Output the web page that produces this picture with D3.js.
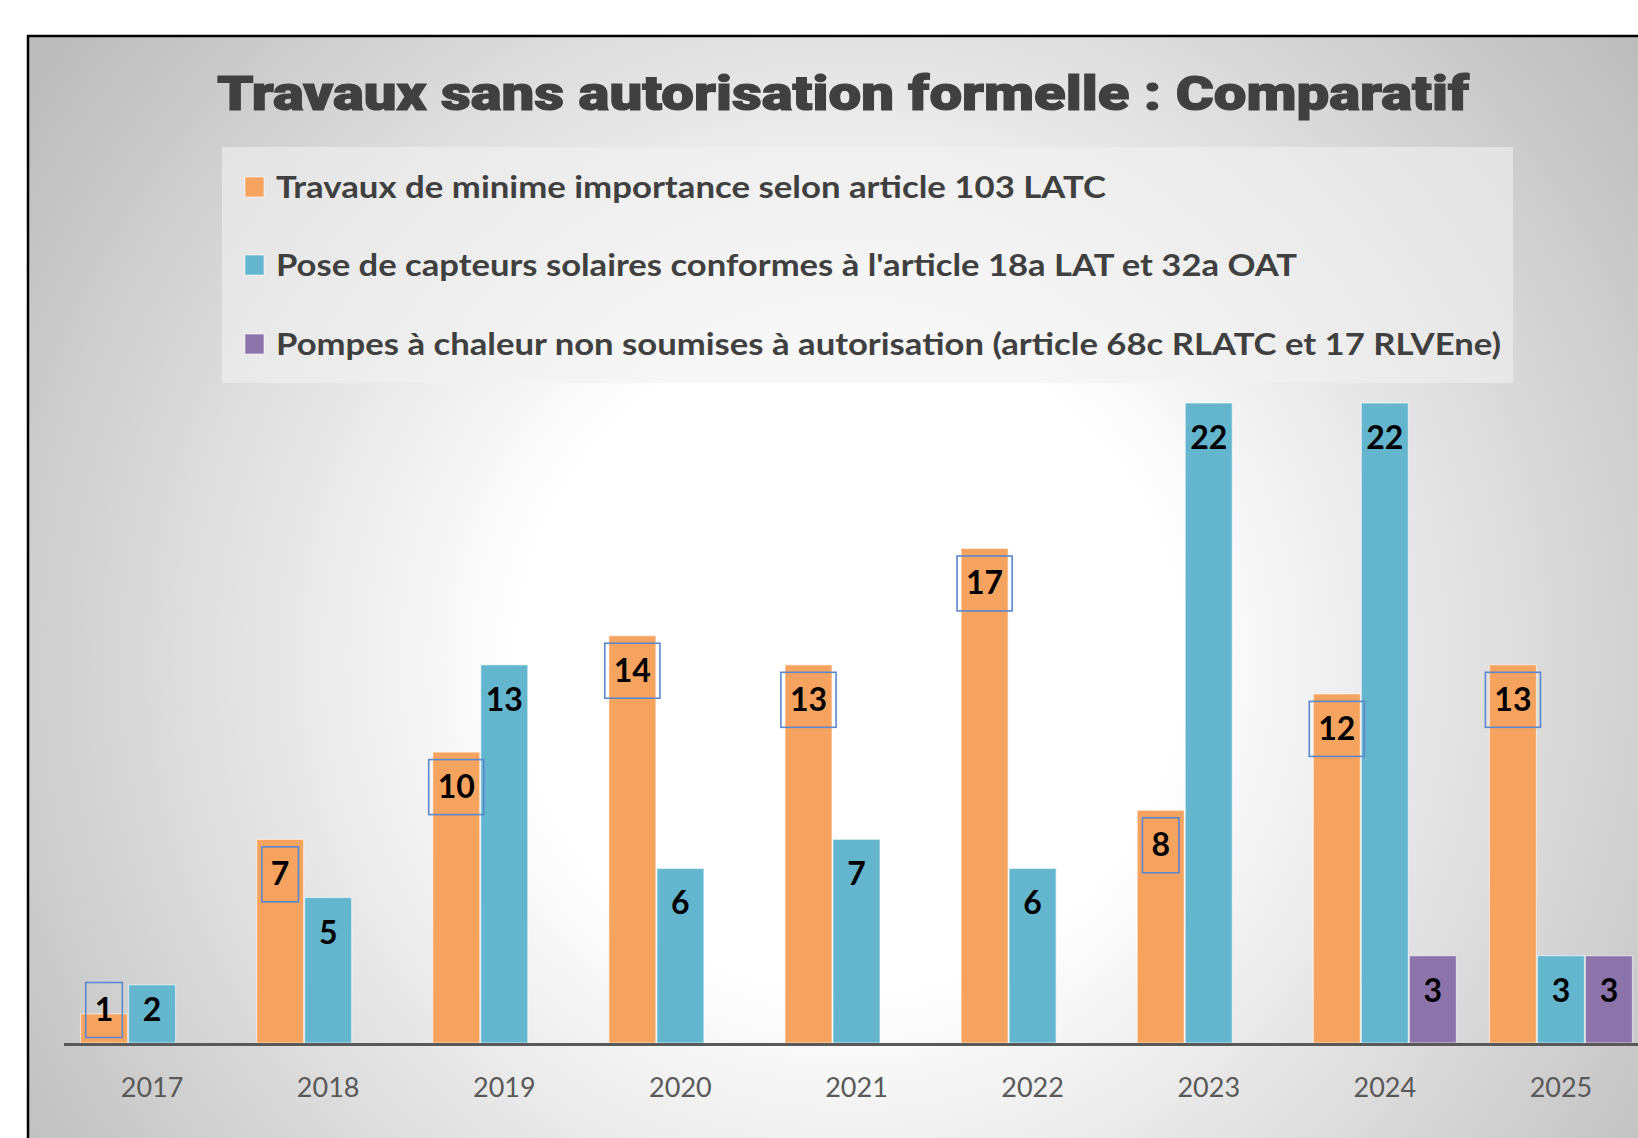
<!DOCTYPE html>
<html>
<head>
<meta charset="utf-8">
<script src="https://cdn.jsdelivr.net/npm/d3@7"></script>
<style>
  html, body { margin: 0; padding: 0; background: #ffffff; overflow: hidden; }
  svg { display: block; }
</style>
</head>
<body>
<svg id="chart" width="1638" height="1138"></svg>
<script>
// Years and series counts
const years = ["2017", "2018", "2019", "2020", "2021", "2022", "2023", "2024", "2025"];
const minimeValues  = [1, 7, 10, 14, 13, 17, 8, 12, 13];
const solaireValues = [2, 5, 13, 6, 7, 6, 22, 22, 3];
const pompeValues   = [0, 0, 0, 0, 0, 0, 0, 3, 3];

const seriesNames = [
  "Travaux de minime importance selon article 103 LATC",
  "Pose de capteurs solaires conformes à l'article 18a LAT et 32a OAT",
  "Pompes à chaleur non soumises à autorisation (article 68c RLATC et 17 RLVEne)"
];
const seriesColors = ["#f5a35f", "#63b6cd", "#8c74aa"];
const titleText = "Travaux sans autorisation formelle : Comparatif";

const series = [
  { key: "minime",  name: seriesNames[0], color: seriesColors[0], values: minimeValues,  boxed: true },
  { key: "solaire", name: seriesNames[1], color: seriesColors[1], values: solaireValues, boxed: false },
  { key: "pompe",   name: seriesNames[2], color: seriesColors[2], values: pompeValues,   boxed: false }
];

const svg = d3.select("#chart");
const defs = svg.append("defs");

// Radial background of the chart area
const grad = defs.append("radialGradient")
  .attr("id", "bg").attr("gradientUnits", "userSpaceOnUse")
  .attr("cx", 850).attr("cy", 660).attr("r", 1000);
grad.append("stop").attr("offset", 0).attr("stop-color", "#ffffff");
grad.append("stop").attr("offset", 0.33).attr("stop-color", "#ffffff");
grad.append("stop").attr("offset", 1).attr("stop-color", "#bcbcbc");

defs.append("clipPath").attr("id", "plotClip")
  .append("rect").attr("x", 28).attr("y", 36).attr("width", 1608).attr("height", 1110);

// Chart frame
svg.append("rect")
  .attr("x", 28).attr("y", 36).attr("width", 1700).attr("height", 1200)
  .attr("fill", "url(#bg)")
  .attr("stroke", "#000").attr("stroke-width", 2.5);

// Title
svg.append("text")
  .attr("x", 843).attr("y", 110)
  .attr("text-anchor", "middle")
  .attr("font-family", "Roboto, 'DejaVu Sans', sans-serif")
  .attr("font-weight", 900)
  .attr("font-size", 49)
  .attr("fill", "#404040")
  .attr("stroke", "#404040").attr("stroke-width", 1.2)
  .attr("textLength", 1252).attr("lengthAdjust", "spacingAndGlyphs")
  .text(titleText);

// Legend
const legend = svg.append("g");
legend.append("rect")
  .attr("x", 222).attr("y", 147).attr("width", 1291).attr("height", 236)
  .attr("fill", "#f2f2f2").attr("fill-opacity", 0.6);
const legendWidths = [830, 1021, 1225];
const legendRowY = [187, 265, 344];
series.forEach((s, i) => {
  legend.append("rect")
    .attr("x", 245).attr("y", legendRowY[i] - 10).attr("width", 19).attr("height", 20)
    .attr("fill", s.color).attr("stroke", "rgba(255,255,255,0.6)").attr("stroke-width", 1);
  legend.append("text")
    .attr("x", 276).attr("y", legendRowY[i] + 11)
    .attr("font-family", "Lato, 'Open Sans', sans-serif")
    .attr("font-weight", 700).attr("font-size", 30)
    .attr("fill", "#404040")
    .attr("textLength", legendWidths[i]).attr("lengthAdjust", "spacingAndGlyphs")
    .text(s.name);
});

// Scales
const x0 = d3.scaleBand().domain(years).range([64, 1649]).paddingInner(0.182).paddingOuter(0.091);
const x1 = d3.scaleBand().domain(series.map(s => s.key)).range([0, x0.bandwidth()]);
const y = d3.scaleLinear().domain([0, 22]).range([1043, 403]);

const plot = svg.append("g").attr("clip-path", "url(#plotClip)");

// Bars
const groups = plot.selectAll("g.year").data(years).join("g")
  .attr("class", "year")
  .attr("transform", d => `translate(${x0(d)},0)`);

series.forEach(s => {
  groups.filter((d, i) => s.values[i] > 0)
    .append("rect")
    .attr("x", x1(s.key) + 0.5)
    .attr("width", x1.bandwidth() - 1)
    .attr("y", (d) => y(s.values[years.indexOf(d)]))
    .attr("height", (d) => y(0) - y(s.values[years.indexOf(d)]))
    .attr("fill", s.color)
    .attr("stroke", "rgba(255,255,255,0.55)").attr("stroke-width", 1.2);
});

// Axis line and year labels
const xAxis = d3.axisBottom(x0).tickSize(0).tickPadding(0);
const axisG = svg.append("g").attr("transform", `translate(0,${y(0) + 1})`).call(xAxis);
axisG.select(".domain").remove();
axisG.selectAll("text")
  .attr("dy", 0).attr("y", 53)
  .attr("font-family", "Lato, 'Open Sans', sans-serif")
  .attr("font-size", 27)
  .attr("fill", "#595959");
svg.append("line")
  .attr("x1", 64).attr("x2", 1638).attr("y1", y(0) + 1.5).attr("y2", y(0) + 1.5)
  .attr("stroke", "#595959").attr("stroke-width", 3);

// Value labels inside the bar ends
series.forEach(s => {
  years.forEach((yr, i) => {
    const v = s.values[i];
    if (!(v > 0)) return;
    const cx = x0(yr) + x1(s.key) + x1.bandwidth() / 2;
    const cy = Math.min(y(v) + 35, y(0) - 33);
    const t = plot.append("text")
      .attr("x", cx).attr("y", cy + 11)
      .attr("text-anchor", "middle")
      .attr("font-family", "Lato, 'Open Sans', sans-serif")
      .attr("font-weight", 700).attr("font-size", 32)
      .attr("fill", "#000")
      .text(v);
    if (s.boxed) {
      const w = t.node().getComputedTextLength() + 18;
      plot.insert("rect", () => t.node())
        .attr("x", cx - w / 2).attr("y", cy - 27.5)
        .attr("width", w).attr("height", 55)
        .attr("fill", "none")
        .attr("stroke", "#5b87cc").attr("stroke-width", 1.6);
    }
  });
});
</script>
</body>
</html>
